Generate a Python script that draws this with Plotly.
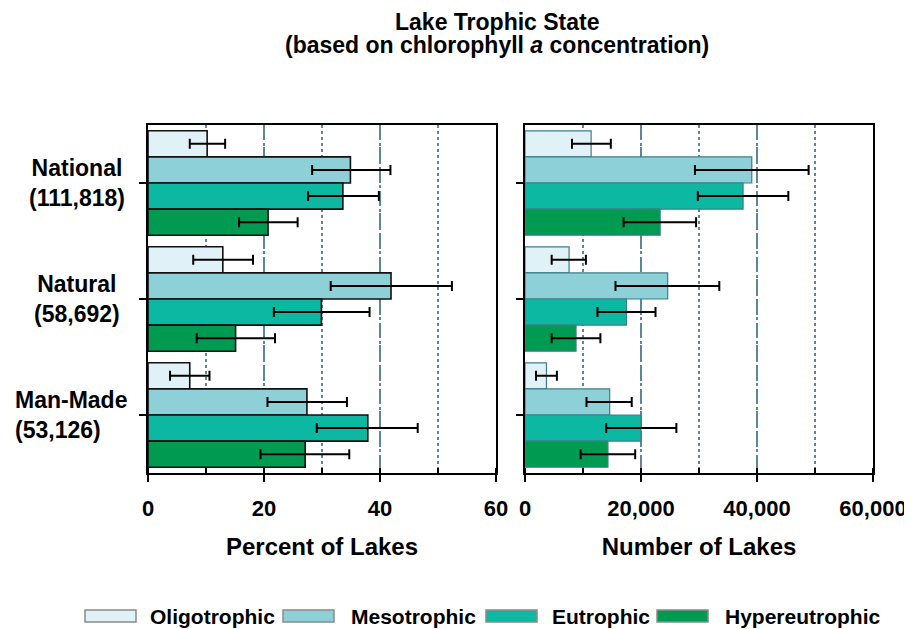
import plotly.graph_objects as go

# ---------------- data ----------------
categories = ["National", "Natural", "Man-Made"]
counts = ["(111,818)", "(58,692)", "(53,126)"]
classes = ["Oligotrophic", "Mesotrophic", "Eutrophic", "Hypereutrophic"]

# Percent of lakes: value, lower bound, upper bound
pct_oligo = [10.2, 12.9, 7.2]
pct_oligo_lo = [7.2, 7.8, 3.8]
pct_oligo_hi = [13.3, 18.1, 10.6]
pct_meso = [34.9, 41.9, 27.4]
pct_meso_lo = [28.3, 31.5, 20.6]
pct_meso_hi = [41.8, 52.4, 34.3]
pct_eutro = [33.6, 29.9, 37.9]
pct_eutro_lo = [27.6, 21.7, 29.1]
pct_eutro_hi = [39.8, 38.2, 46.5]
pct_hyper = [20.7, 15.1, 27.1]
pct_hyper_lo = [15.7, 8.4, 19.4]
pct_hyper_hi = [25.8, 21.9, 34.7]

# Number of lakes: value, lower bound, upper bound
num_oligo = [11400, 7600, 3700]
num_oligo_lo = [8100, 4600, 1900]
num_oligo_hi = [14800, 10500, 5500]
num_meso = [39100, 24600, 14600]
num_meso_lo = [29300, 15600, 10600]
num_meso_hi = [48900, 33500, 18400]
num_eutro = [37600, 17500, 20000]
num_eutro_lo = [29800, 12500, 14000]
num_eutro_hi = [45400, 22500, 26100]
num_hyper = [23300, 8800, 14300]
num_hyper_lo = [17000, 4600, 9600]
num_hyper_hi = [29500, 13000, 19000]

pct_tickvals = [0, 20, 40, 60]
num_tickvals = [0, 20000, 40000, 60000]

# ---------------- style ----------------
colors = ["#e0f1f7", "#8ed0d8", "#0db8a2", "#009a50"]
FONT = "Liberation Sans, Arial, Helvetica, sans-serif"
GRID = "#5f8599"
W, H = 912, 629
OFF = 8  # page body margin offset


def px(x):
    return (x - OFF) / W


def py(y):
    return 1 - (y - OFF) / H


pct_series = [
    (pct_oligo, pct_oligo_lo, pct_oligo_hi),
    (pct_meso, pct_meso_lo, pct_meso_hi),
    (pct_eutro, pct_eutro_lo, pct_eutro_hi),
    (pct_hyper, pct_hyper_lo, pct_hyper_hi),
]
num_series = [
    (num_oligo, num_oligo_lo, num_oligo_hi),
    (num_meso, num_meso_lo, num_meso_hi),
    (num_eutro, num_eutro_lo, num_eutro_hi),
    (num_hyper, num_hyper_lo, num_hyper_hi),
]

fig = go.Figure()


def add_panel(series, xa, ya, line_color, line_width):
    for name, col, (v, lo, hi) in zip(classes, colors, series):
        fig.add_trace(go.Bar(
            name=name, orientation="h", y=categories, x=v,
            xaxis=xa, yaxis=ya, showlegend=False,
            marker=dict(color=col, line=dict(color=line_color, width=line_width)),
            error_x=dict(type="data", symmetric=False,
                         array=[h - a for h, a in zip(hi, v)],
                         arrayminus=[a - l for a, l in zip(v, lo)],
                         color="black", thickness=2, width=5),
        ))


add_panel(pct_series, "x", "y", "#111111", 1.6)
add_panel(num_series, "x2", "y2", "#3c7e88", 1.2)

ydom = [py(473), py(125)]
axis_common = dict(
    automargin=False,
    showline=True, linecolor="black", linewidth=2, mirror=True,
    ticks="outside", ticklen=7, tickwidth=2, tickcolor="black",
    showgrid=True, gridcolor=GRID, gridwidth=2, griddash="14px,8px",
    zeroline=False, ticklabelstandoff=8,
    tickfont=dict(family=FONT, size=22, color="black", weight="bold"),
    title_font=dict(family=FONT, size=24, color="black", weight="bold"),
)
minor_common = dict(ticks="inside", ticklen=5, tickwidth=2, tickcolor="black",
                    showgrid=True, gridcolor=GRID, gridwidth=2, griddash="dot")
yaxis_common = dict(
    automargin=False, domain=ydom, autorange="reversed", showticklabels=False,
    showline=True, linecolor="black", linewidth=2, mirror=True,
    ticks="outside", ticklen=7, tickwidth=2, tickcolor="black",
    showgrid=False, zeroline=False,
)

fig.update_layout(
    template="none",
    width=W, height=H, autosize=False, barmode="group", bargap=0.1, bargroupgap=0,
    plot_bgcolor="white", paper_bgcolor="white",
    margin=dict(l=0, r=0, t=0, b=0, pad=0),
    xaxis=dict(domain=[px(148), px(496)], range=[0, 60], tickvals=pct_tickvals,
               minor=dict(dtick=10, **minor_common),
               title=dict(text="Percent of Lakes", standoff=18), anchor="y", **axis_common),
    xaxis2=dict(domain=[px(525), px(873)], range=[0, 60000], tickvals=num_tickvals,
                tickformat=",", minor=dict(dtick=10000, **minor_common),
                title=dict(text="Number of Lakes", standoff=18), anchor="y2", **axis_common),
    yaxis=dict(anchor="x", **yaxis_common),
    yaxis2=dict(anchor="x2", matches="y", **yaxis_common),
)

# title
fig.add_annotation(text="<b>Lake Trophic State</b>", xref="paper", yref="paper",
                   x=px(497), y=1.0, xanchor="center", yanchor="top", borderpad=0,
                   showarrow=False, font=dict(family=FONT, size=23, color="black"))
fig.add_annotation(text="<b>(based on chlorophyll <i>a</i> concentration)</b>",
                   xref="paper", yref="paper",
                   x=px(497), y=py(45), xanchor="center", yanchor="middle",
                   showarrow=False, font=dict(family=FONT, size=23, color="black"))

# category labels
label_x = [77, 77, 13]
label_anchor = ["center", "center", "left"]
for cat, cnt, lx, anc in zip(categories, counts, label_x, label_anchor):
    fig.add_annotation(text=f"<b>{cat}<br>{cnt}</b>", xref="paper", yref="y",
                       x=px(lx), y=cat, xanchor=anc, yanchor="middle",
                       align=anc, showarrow=False,
                       font=dict(family=FONT, size=23, color="black"))

# legend (manual, wide swatches)
sw_x = [85, 283, 486, 657]
txt_x = [148, 349, 550, 723]
leg_y = 616
for name, col, sx, tx in zip(classes, colors, sw_x, txt_x):
    fig.add_shape(type="rect", xref="paper", yref="paper",
                  x0=px(sx), x1=px(sx + 51), y0=py(leg_y - 6), y1=py(leg_y + 6),
                  fillcolor=col, line=dict(color="#8a8a8a", width=1.5))
    fig.add_annotation(text=f"<b>{name}</b>", xref="paper", yref="paper",
                       x=px(tx), y=py(leg_y), xanchor="left", yanchor="middle",
                       showarrow=False, font=dict(family=FONT, size=21, color="black"))

fig.write_html("out.html")
